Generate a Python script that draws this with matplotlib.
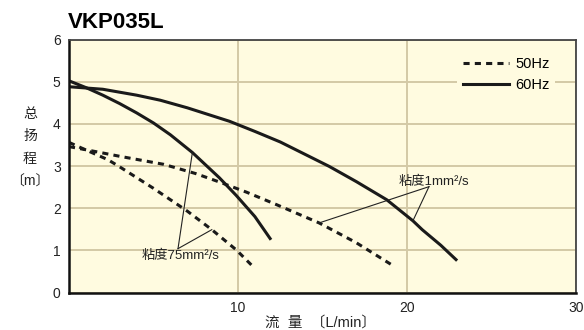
import matplotlib.pyplot as plt

# 50Hz / 60Hz pump curves, flow (L/min) vs head (m)
q_60_1 = [0, 2, 4, 5.4, 7, 9.5, 11, 12.5, 14, 15.4, 17, 18.8, 20.35, 20.9, 22, 22.9]
h_60_1 = [4.88, 4.82, 4.68, 4.56, 4.38, 4.06, 3.82, 3.57, 3.27, 2.99, 2.63, 2.2, 1.7, 1.49, 1.12, 0.78]

q_60_75 = [0, 1, 2, 3, 4, 5, 6, 7.3, 8.9, 9.9, 11, 11.9]
h_60_75 = [5.02, 4.86, 4.68, 4.48, 4.26, 4.02, 3.74, 3.32, 2.72, 2.3, 1.8, 1.28]

q_50_1 = [0, 1.6, 3, 5.6, 7.5, 8.9, 10.5, 12.3, 14.8, 17, 19.2]
h_50_1 = [3.46, 3.34, 3.23, 3.04, 2.82, 2.62, 2.38, 2.08, 1.65, 1.18, 0.63]

q_50_75 = [0, 1, 2.3, 3, 5, 7, 8.45, 9.9, 10.9]
h_50_75 = [3.56, 3.38, 3.15, 2.98, 2.47, 1.93, 1.49, 1.01, 0.61]

# leader lines: label anchor -> points on curves
lead_75 = [(6.45, 1.04), (7.3, 3.32), (8.45, 1.49)]
lead_1 = [(21.3, 2.51), (14.8, 1.65), (20.35, 1.7)]
label_75 = "粘度75mm²/s"
label_1 = "粘度1mm²/s"

fonts = ['Liberation Sans', 'Noto Sans CJK SC']
bg = '#fffbe0'
grid_c = '#d3c9a6'

fig = plt.figure(figsize=(5.84, 3.30), dpi=100)
ax = fig.add_axes([69 / 584, 1 - 292.5 / 330, 507 / 584, 253 / 330])
ax.set_facecolor(bg)

ax.set_xlim(0, 30)
ax.set_ylim(0, 6)
ax.set_xticks([10, 20, 30])
ax.set_yticks([0, 1, 2, 3, 4, 5, 6])
ax.grid(True, color=grid_c, lw=1.4)
ax.set_axisbelow(True)
ax.tick_params(length=0, pad=6, labelsize=10, labelcolor='#222222')
for lab in ax.get_xticklabels() + ax.get_yticklabels():
    lab.set_family(fonts)

for s in ['left', 'bottom']:
    ax.spines[s].set_linewidth(1.8)
    ax.spines[s].set_color('#111111')
for s in ['top', 'right']:
    ax.spines[s].set_linewidth(1.3)
    ax.spines[s].set_color('#444444')

dash = (0, (2.0, 1.7))
ax.plot(q_50_1, h_50_1, color='#1a1a1a', lw=2.2, ls=dash, label='50Hz')
ax.plot(q_60_1, h_60_1, color='#1a1a1a', lw=2.2, label='60Hz')
ax.plot(q_50_75, h_50_75, color='#1a1a1a', lw=2.2, ls=dash)
ax.plot(q_60_75, h_60_75, color='#1a1a1a', lw=2.2)

for lead in (lead_75, lead_1):
    o = lead[0]
    for p in lead[1:]:
        ax.plot([o[0], p[0]], [o[1], p[1]], color='#222222', lw=0.8)

ax.text(6.6, 0.86, label_75, ha='center', va='center', fontsize=9.5,
        family=fonts, color='#222222')
ax.text(21.6, 2.63, label_1, ha='center', va='center', fontsize=9.5,
        family=fonts, color='#222222')

leg = ax.legend(loc='upper left', bbox_to_anchor=(0.765, 0.955), borderaxespad=0,
                handlelength=3.2, handletextpad=0.4, labelspacing=0.5,
                borderpad=0.4, fancybox=False, facecolor=bg, edgecolor='none',
                framealpha=1, prop={'family': fonts, 'size': 10.5})

ax.set_ylabel("总\n扬\n程\n〔m〕", rotation=0, family=fonts, fontsize=10,
              linespacing=1.8, va='center', ha='center', color='#222222')
ax.yaxis.set_label_coords(-0.077, 0.572)
ax.set_xlabel("流  量  〔L/min〕", family=fonts, fontsize=10.5, color='#222222',
              va='center')
ax.xaxis.set_label_coords(0.497, -0.117)

fig.text(68 / 584, 1 - 22 / 330, "VKP035L", ha='left', va='center',
         fontsize=16, fontweight='bold', family=fonts)

fig.savefig('out.png', dpi=100)
